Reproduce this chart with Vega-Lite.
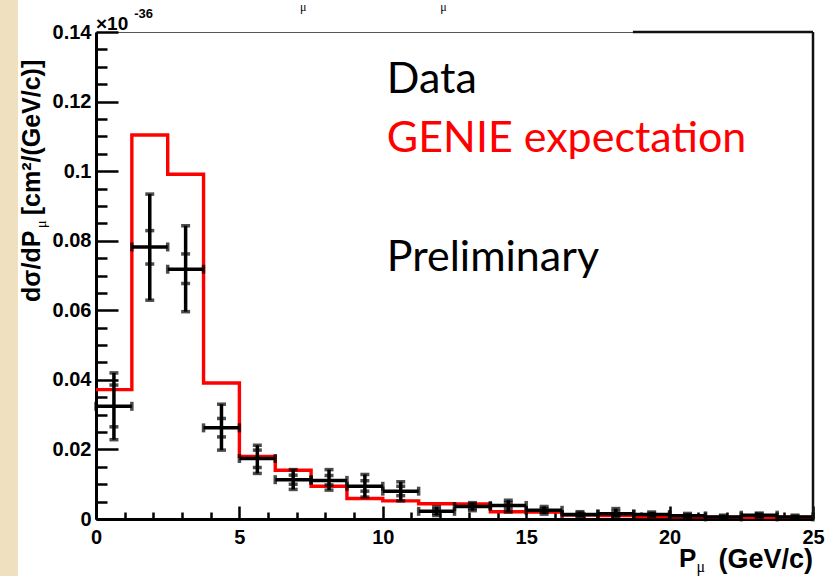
{
  "$schema": "https://vega.github.io/schema/vega-lite/v6.json",
  "width": 717,
  "height": 487,
  "autosize": {"type": "none"},
  "padding": {"left": 96, "top": 32, "right": 12, "bottom": 57},
  "background": "#ffffff",
  "view": {"stroke": "#555555", "strokeWidth": 1},
  "datasets": {
    "bins": [
      {"lo": 0.0, "hi": 1.25, "c": 0.625, "y": 0.0324, "tlo": 0.0228, "thi": 0.0420, "slo": 0.0265, "shi": 0.0385},
      {"lo": 1.25, "hi": 2.5, "c": 1.875, "y": 0.0782, "tlo": 0.0629, "thi": 0.0934, "slo": 0.0733, "shi": 0.0829},
      {"lo": 2.5, "hi": 3.75, "c": 3.125, "y": 0.0718, "tlo": 0.0596, "thi": 0.0843, "slo": 0.0677, "shi": 0.0762},
      {"lo": 3.75, "hi": 5.0, "c": 4.375, "y": 0.0262, "tlo": 0.0198, "thi": 0.0330, "slo": 0.0236, "shi": 0.0289},
      {"lo": 5.0, "hi": 6.25, "c": 5.625, "y": 0.0174, "tlo": 0.0131, "thi": 0.0212, "slo": 0.0148, "shi": 0.0198},
      {"lo": 6.25, "hi": 7.5, "c": 6.875, "y": 0.0113, "tlo": 0.0085, "thi": 0.0142, "slo": 0.0100, "shi": 0.0126},
      {"lo": 7.5, "hi": 8.75, "c": 8.125, "y": 0.0111, "tlo": 0.0083, "thi": 0.0142, "slo": 0.0098, "shi": 0.0125},
      {"lo": 8.75, "hi": 10.0, "c": 9.375, "y": 0.0094, "tlo": 0.0063, "thi": 0.0128, "slo": 0.0080, "shi": 0.0110},
      {"lo": 10.0, "hi": 11.25, "c": 10.625, "y": 0.0080, "tlo": 0.0052, "thi": 0.0107, "slo": 0.0067, "shi": 0.0094},
      {"lo": 11.25, "hi": 12.5, "c": 11.875, "y": 0.0022, "tlo": 0.0010, "thi": 0.0035, "slo": 0.0016, "shi": 0.0028},
      {"lo": 12.5, "hi": 13.75, "c": 13.125, "y": 0.0036, "tlo": 0.0024, "thi": 0.0047, "slo": 0.0030, "shi": 0.0042},
      {"lo": 13.75, "hi": 15.0, "c": 14.375, "y": 0.0039, "tlo": 0.0020, "thi": 0.0054, "slo": 0.0030, "shi": 0.0047},
      {"lo": 15.0, "hi": 16.25, "c": 15.625, "y": 0.0025, "tlo": 0.0014, "thi": 0.0036, "slo": 0.0020, "shi": 0.0030},
      {"lo": 16.25, "hi": 17.5, "c": 16.875, "y": 0.0013, "tlo": 0.0006, "thi": 0.0021, "slo": 0.0009, "shi": 0.0017},
      {"lo": 17.5, "hi": 18.75, "c": 18.125, "y": 0.0015, "tlo": 0.0006, "thi": 0.0030, "slo": 0.0010, "shi": 0.0022},
      {"lo": 18.75, "hi": 20.0, "c": 19.375, "y": 0.0013, "tlo": 0.0007, "thi": 0.0020, "slo": 0.0010, "shi": 0.0016},
      {"lo": 20.0, "hi": 21.25, "c": 20.625, "y": 0.0009, "tlo": 0.0004, "thi": 0.0016, "slo": 0.0006, "shi": 0.0012},
      {"lo": 21.25, "hi": 22.5, "c": 21.875, "y": 0.0006, "tlo": 0.0002, "thi": 0.0011, "slo": 0.0004, "shi": 0.0008},
      {"lo": 22.5, "hi": 23.75, "c": 23.125, "y": 0.0011, "tlo": 0.0005, "thi": 0.0017, "slo": 0.0008, "shi": 0.0014},
      {"lo": 23.75, "hi": 25.0, "c": 24.375, "y": 0.0006, "tlo": 0.0002, "thi": 0.0011, "slo": 0.0004, "shi": 0.0008}
    ],
    "genie": [
      {"edge": 0.0, "xs": 0.0372},
      {"edge": 1.25, "xs": 0.1104},
      {"edge": 2.5, "xs": 0.0991},
      {"edge": 3.75, "xs": 0.0391},
      {"edge": 5.0, "xs": 0.0180},
      {"edge": 6.25, "xs": 0.0140},
      {"edge": 7.5, "xs": 0.0094},
      {"edge": 8.75, "xs": 0.0059},
      {"edge": 10.0, "xs": 0.0052},
      {"edge": 11.25, "xs": 0.0044},
      {"edge": 12.5, "xs": 0.0043},
      {"edge": 13.75, "xs": 0.0021},
      {"edge": 15.0, "xs": 0.0020},
      {"edge": 16.25, "xs": 0.0011},
      {"edge": 17.5, "xs": 0.0010},
      {"edge": 18.75, "xs": 0.0007},
      {"edge": 20.0, "xs": 0.0006},
      {"edge": 21.25, "xs": 0.0005},
      {"edge": 22.5, "xs": 0.0005},
      {"edge": 23.75, "xs": 0.0005},
      {"edge": 25.0, "xs": 0.0005}
    ],
    "one": [{}]
  },
  "resolve": {"axis": {"x": "independent", "y": "independent"}},
  "layer": [
    {
      "data": {"name": "one"},
      "mark": {"type": "rect", "color": "#efe0bf", "clip": false},
      "encoding": {
        "x": {"datum": -3.35, "type": "quantitative", "scale": {"domain": [0, 25], "nice": false, "zero": false},
          "axis": {
            "orient": "bottom",
            "values": [0, 5, 10, 15, 20, 25],
            "title": null,
            "grid": false,
            "domainColor": "#000000", "domainWidth": 3,
            "tickColor": "#000000", "tickWidth": 2.5, "tickSize": -13,
            "labelFont": "Liberation Sans", "labelFontWeight": "bold", "labelFontSize": 20,
            "labelColor": "#000000", "labelPadding": 21, "labelOverlap": false, "labelFlush": false
          }},
        "x2": {"datum": -2.72},
        "y": {"datum": -0.0165, "type": "quantitative", "scale": {"domain": [0, 0.14], "nice": false, "zero": false},
          "axis": {
            "orient": "left",
            "values": [0, 0.02, 0.04, 0.06, 0.08, 0.1, 0.12, 0.14],
            "title": null,
            "grid": false,
            "format": ".2~f",
            "domainColor": "#000000", "domainWidth": 3,
            "tickColor": "#000000", "tickWidth": 2.5, "tickSize": -22,
            "labelFont": "Liberation Sans", "labelFontWeight": "bold", "labelFontSize": 20,
            "labelColor": "#000000", "labelPadding": 27, "labelOverlap": false, "labelFlush": false
          }},
        "y2": {"datum": 0.1492}
      }
    },
    {
      "data": {"name": "genie"},
      "mark": {"type": "line", "interpolate": "step-after", "color": "#ff0000", "strokeWidth": 3.4, "strokeJoin": "miter", "strokeCap": "butt"},
      "encoding": {
        "x": {"field": "edge", "type": "quantitative",
          "axis": {
            "orient": "bottom",
            "values": [1,2,3,4,6,7,8,9,11,12,13,14,16,17,18,19,21,22,23,24],
            "title": null, "grid": false, "labels": false, "domain": false,
            "tickColor": "#000000", "tickWidth": 2.5, "tickSize": -7
          }},
        "y": {"field": "xs", "type": "quantitative",
          "axis": {
            "orient": "left",
            "values": [0.005,0.01,0.015,0.025,0.03,0.035,0.045,0.05,0.055,0.065,0.07,0.075,0.085,0.09,0.095,0.105,0.11,0.115,0.125,0.13,0.135],
            "title": null, "grid": false, "labels": false, "domain": false,
            "tickColor": "#000000", "tickWidth": 2.5, "tickSize": -11
          }}
      }
    },
    {
      "data": {"name": "bins"},
      "mark": {"type": "rule", "color": "#000000", "strokeWidth": 3.5},
      "encoding": {
        "x": {"field": "lo", "type": "quantitative", "axis": null},
        "x2": {"field": "hi"},
        "y": {"field": "y", "type": "quantitative", "axis": null}
      }
    },
    {
      "data": {"name": "bins"},
      "mark": {"type": "rule", "color": "#000000", "strokeWidth": 3.5},
      "encoding": {
        "x": {"field": "c", "type": "quantitative", "axis": null},
        "y": {"field": "tlo", "type": "quantitative", "axis": null},
        "y2": {"field": "thi"}
      }
    },
    {
      "data": {"name": "bins"},
      "transform": [{"fold": ["lo", "hi"], "as": ["side", "xe"]}],
      "mark": {"type": "tick", "orient": "vertical", "color": "#000000", "size": 9, "thickness": 3.5},
      "encoding": {
        "x": {"field": "xe", "type": "quantitative", "axis": null},
        "y": {"field": "y", "type": "quantitative", "axis": null}
      }
    },
    {
      "data": {"name": "bins"},
      "transform": [{"fold": ["tlo", "thi", "slo", "shi"], "as": ["which", "ye"]}],
      "mark": {"type": "tick", "orient": "horizontal", "color": "#000000", "size": 9, "thickness": 3.5},
      "encoding": {
        "x": {"field": "c", "type": "quantitative", "axis": null},
        "y": {"field": "ye", "type": "quantitative", "axis": null}
      }
    },
    {
      "data": {"values": [{"x1": 25, "x2": 25, "y1": 0, "y2": 0.14}, {"x1": 18.72, "x2": 25, "y1": 0.14, "y2": 0.14}]},
      "mark": {"type": "rule", "color": "#111111", "strokeWidth": 2.5, "clip": false},
      "encoding": {
        "x": {"field": "x1", "type": "quantitative", "axis": null},
        "x2": {"field": "x2"},
        "y": {"field": "y1", "type": "quantitative", "axis": null},
        "y2": {"field": "y2"}
      }
    },
    {
      "data": {"values": [
        {"t": "Data", "tx": 10.14, "ty": 0.1224, "col": "black"},
        {"t": "GENIE expectation", "tx": 10.14, "ty": 0.1056, "col": "red"},
        {"t": "Preliminary", "tx": 10.14, "ty": 0.0713, "col": "black"}
      ]},
      "mark": {"type": "text", "font": "Lato", "fontSize": 43, "align": "left", "baseline": "alphabetic"},
      "encoding": {
        "x": {"field": "tx", "type": "quantitative", "axis": null},
        "y": {"field": "ty", "type": "quantitative", "axis": null},
        "text": {"field": "t"},
        "color": {"field": "col", "type": "nominal", "scale": {"domain": ["black", "red"], "range": ["#000000", "#ff0000"]}, "legend": null}
      }
    },
    {
      "data": {"name": "one"},
      "mark": {"type": "text", "font": "Liberation Sans", "fontWeight": "bold", "fontSize": 19, "align": "left", "baseline": "alphabetic", "clip": false, "text": "×10", "color": "#000000"},
      "encoding": {"x": {"datum": 0.0, "axis": null}, "y": {"datum": 0.1406, "axis": null}}
    },
    {
      "data": {"name": "one"},
      "mark": {"type": "text", "font": "Liberation Sans", "fontWeight": "bold", "fontSize": 13, "align": "left", "baseline": "alphabetic", "clip": false, "text": "-36", "color": "#000000"},
      "encoding": {"x": {"datum": 1.33, "axis": null}, "y": {"datum": 0.1441, "axis": null}}
    },
    {
      "data": {"name": "one"},
      "mark": {"type": "text", "font": "Liberation Sans", "fontWeight": "bold", "fontSize": 26, "align": "left", "baseline": "alphabetic", "clip": false, "text": "P", "color": "#000000"},
      "encoding": {"x": {"datum": 20.33, "axis": null}, "y": {"datum": -0.0138, "axis": null}}
    },
    {
      "data": {"name": "one"},
      "mark": {"type": "text", "font": "Liberation Serif", "fontSize": 16, "align": "left", "baseline": "alphabetic", "clip": false, "text": "μ", "color": "#000000"},
      "encoding": {"x": {"datum": 20.94, "axis": null}, "y": {"datum": -0.0153, "axis": null}}
    },
    {
      "data": {"name": "one"},
      "mark": {"type": "text", "font": "Liberation Sans", "fontWeight": "bold", "fontSize": 27, "align": "right", "baseline": "alphabetic", "clip": false, "text": "(GeV/c)", "color": "#000000"},
      "encoding": {"x": {"datum": 25.0, "axis": null}, "y": {"datum": -0.0141, "axis": null}}
    },
    {
      "data": {"name": "one"},
      "mark": {"type": "text", "font": "Liberation Sans", "fontWeight": "bold", "fontSize": 25, "angle": 270, "align": "left", "baseline": "alphabetic", "clip": false, "text": "dσ/dP", "color": "#000000"},
      "encoding": {"x": {"datum": -1.953, "axis": null}, "y": {"datum": 0.0624, "axis": null}}
    },
    {
      "data": {"name": "one"},
      "mark": {"type": "text", "font": "Liberation Serif", "fontSize": 15, "angle": 270, "align": "left", "baseline": "alphabetic", "clip": false, "text": "μ", "color": "#000000"},
      "encoding": {"x": {"datum": -1.76, "axis": null}, "y": {"datum": 0.0836, "axis": null}}
    },
    {
      "data": {"name": "one"},
      "mark": {"type": "text", "font": "Liberation Sans", "fontWeight": "bold", "fontSize": 25, "angle": 270, "align": "left", "baseline": "alphabetic", "clip": false, "text": "[cm²/(GeV/c)]", "color": "#000000"},
      "encoding": {"x": {"datum": -1.953, "axis": null}, "y": {"datum": 0.0873, "axis": null}}
    },
    {
      "data": {"values": [{"mx": 7.11}, {"mx": 12.0}]},
      "mark": {"type": "text", "font": "Liberation Serif", "fontSize": 12, "align": "left", "baseline": "alphabetic", "clip": false, "text": "μ", "color": "#000000"},
      "encoding": {"x": {"field": "mx", "type": "quantitative", "axis": null}, "y": {"datum": 0.1461, "axis": null}}
    }
  ]
}
